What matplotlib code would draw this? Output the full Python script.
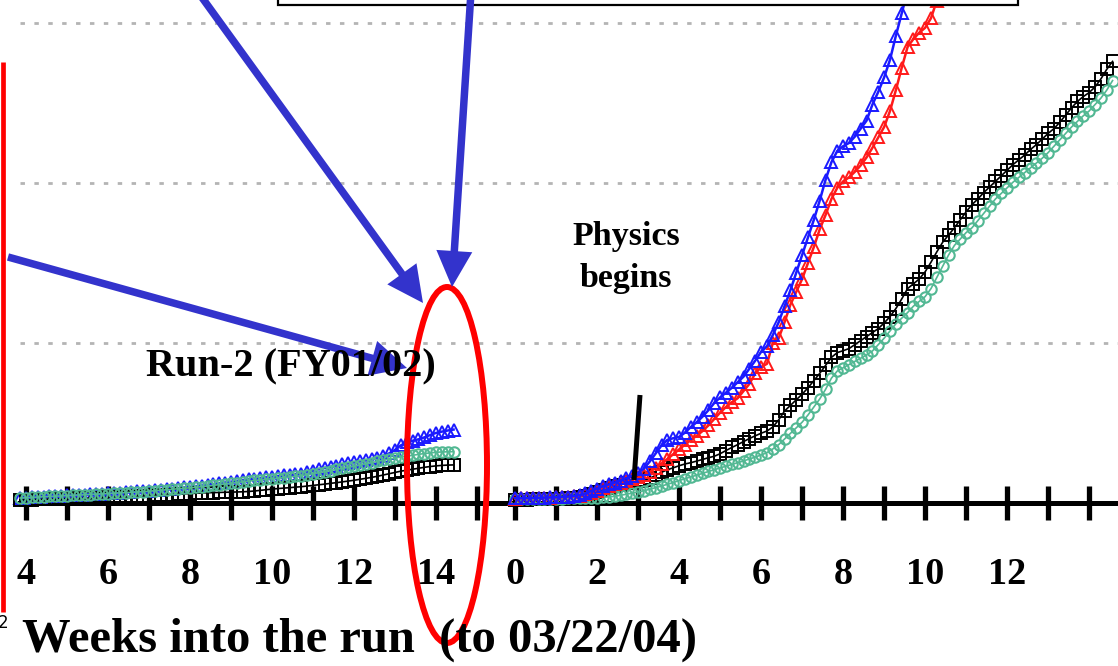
import numpy as np
import matplotlib
matplotlib.use("Agg")
import matplotlib.pyplot as plt
from matplotlib.patches import Ellipse, Rectangle, FancyArrow

# ---------------------------------------------------------------------------
# Integrated luminosity, daily values (arbitrary units, grid every 100)
# Run-2 (FY01/02): days since start of run
run2_first_day = 27
run2_blue = [3.2, 3.4, 3.6, 3.8, 4.0, 4.2, 4.4, 4.6, 4.8, 5.0, 5.2, 5.3, 5.5, 5.7, 5.9,
             6.1, 6.3, 6.5, 6.7, 6.9, 7.2, 7.5, 7.8, 8.1, 8.4, 8.7, 9.0, 9.3, 9.7, 10.1,
             10.5, 10.9, 11.3, 11.8, 12.3, 12.8, 13.3, 13.8, 14.3, 14.8, 15.2, 15.6, 16.0,
             16.4, 16.8, 17.2, 17.6, 18.0, 18.4, 19.2, 20.2, 21.1, 21.9, 22.6, 23.4, 24.1,
             24.8, 25.4, 26.0, 26.6, 27.3, 28.2, 29.5, 31.0, 33.2, 36.0, 37.9, 38.9, 39.8,
             41.0, 42.5, 43.8, 44.6, 45.3, 45.9]
run2_black = [1.9, 2.0, 2.1, 2.2, 2.3, 2.4, 2.5, 2.6, 2.7, 2.8, 2.9, 3.0, 3.1, 3.2, 3.4,
              3.6, 3.7, 3.9, 4.0, 4.1, 4.2, 4.3, 4.5, 4.7, 4.9, 5.1, 5.3, 5.5, 5.7, 5.9,
              6.1, 6.3, 6.4, 6.5, 6.6, 6.7, 6.8, 6.9, 7.0, 7.2, 7.5, 7.9, 8.3, 8.7, 9.0,
              9.3, 9.6, 9.9, 10.2, 10.6, 11.0, 11.4, 11.8, 12.3, 12.7, 13.2, 13.7, 14.2,
              14.8, 15.4, 16.0, 16.7, 17.5, 18.3, 19.1, 19.9, 20.5, 21.1, 21.7, 22.3, 22.8,
              23.2, 23.5, 23.7, 23.8]
run2_green = [3.1, 3.3, 3.5, 3.7, 3.9, 4.1, 4.3, 4.4, 4.6, 4.8, 5.0, 5.1, 5.3, 5.5, 5.7,
              5.9, 6.1, 6.3, 6.5, 6.7, 6.9, 7.1, 7.4, 7.7, 8.0, 8.3, 8.6, 8.9, 9.2, 9.5,
              9.8, 10.2, 10.6, 11.0, 11.5, 11.9, 12.3, 12.8, 13.2, 13.7, 14.1, 14.4, 14.8,
              15.2, 15.5, 15.9, 16.3, 16.7, 17.1, 17.7, 18.3, 19.0, 19.6, 20.3, 21.0, 21.6,
              22.3, 23.0, 23.7, 24.5, 25.2, 26.0, 26.7, 27.4, 28.1, 28.8, 29.3, 29.8, 30.4,
              30.9, 31.3, 31.7, 31.9, 32.0, 32.1]

# Run-4 (FY04): days since start of run, up to 03/22/04
run4_blue = [3.0, 3.0, 3.1, 3.2, 3.3, 3.4, 3.5, 3.6, 3.8, 4.0, 4.4, 5.0, 6.0, 7.5, 9.0,
             10.5, 11.6, 12.8, 14.0, 15.5, 17.0, 19.0, 21.5, 26.0, 31.0, 36.0, 39.5, 40.5,
             41.3, 44.0, 47.5, 50.5, 54.0, 58.0, 62.5, 66.0, 69.0, 72.0, 75.5, 79.0, 84.0,
             89.0, 94.5, 98.0, 105.0, 113.0, 123.0, 133.0, 144.0, 155.0, 166.0, 177.0,
             189.0, 202.0, 213.0, 220.0, 223.0, 225.0, 229.0, 234.0, 239.0, 249.0, 257.0,
             266.0, 277.0, 292.0, 306.0, 320.0, 334.0]
run4_red = [2.8, 2.9, 3.0, 3.1, 3.2, 3.3, 3.4, 3.5, 3.6, 3.8, 4.1, 4.6, 5.4, 6.5, 7.8,
            9.2, 10.5, 11.6, 12.6, 13.6, 14.8, 16.0, 17.5, 19.5, 22.0, 24.5, 27.5, 30.5,
            33.5, 36.5, 39.5, 42.0, 45.0, 48.5, 52.5, 56.5, 60.0, 63.0, 65.5, 70.0, 74.5,
            81.0, 85.0, 87.0, 100.0, 103.0, 113.0, 124.0, 132.0, 140.0, 150.0, 160.0,
            171.0, 180.0, 190.0, 197.0, 201.0, 203.5, 207.0, 211.0, 216.0, 222.0, 228.5,
            235.0, 245.0, 258.0, 272.0, 285.0, 290.0, 294.0, 297.0, 303.0, 314.0, 326.0]
run4_black = [2.0, 2.0, 2.1, 2.2, 2.3, 2.4, 2.5, 2.6, 2.8, 3.0, 3.4, 3.9, 4.6, 5.5, 6.8,
              8.2, 9.6, 10.6, 11.4, 12.2, 13.0, 13.6, 14.2, 15.5, 17.3, 19.2, 20.8, 22.0,
              23.3, 24.4, 25.2, 26.2, 27.2, 28.3, 29.2, 30.8, 32.8, 34.7, 36.5, 38.4, 40.3,
              42.0, 43.6, 45.0, 47.5, 52.0, 57.5, 61.0, 64.5, 68.0, 72.0, 76.5, 81.0, 86.0,
              91.0, 94.0, 95.2, 96.5, 99.0, 101.5, 104.0, 106.5, 109.0, 112.5, 116.5, 121.5,
              127.5, 134.0, 137.0, 140.0, 144.5, 150.5, 157.0, 163.0, 167.5, 172.0, 177.0,
              182.0, 186.5, 190.0, 194.0, 197.5, 201.0, 204.5, 208.0, 211.5, 214.5, 217.5,
              221.0, 224.0, 227.5, 231.0, 234.0, 238.0, 242.5, 247.0, 251.0, 254.0, 256.5,
              260.0, 265.0, 271.0, 276.0]
run4_green = [2.5, 2.5, 2.5, 2.6, 2.6, 2.7, 2.7, 2.8, 2.8, 2.9, 3.0, 3.1, 3.2, 3.3, 3.4,
              3.6, 3.8, 4.2, 4.8, 5.5, 6.2, 6.9, 7.7, 8.6, 9.6, 10.6, 11.7, 12.8, 14.0,
              15.2, 16.3, 17.4, 18.5, 19.7, 20.8, 21.9, 23.0, 24.1, 25.2, 26.3, 27.5, 28.7,
              30.0, 31.5, 33.8, 36.5, 40.0, 43.5, 47.0, 50.5, 55.0, 60.0, 65.0, 71.0, 78.0,
              82.5, 84.5, 86.5, 88.5, 90.5, 92.5, 95.0, 99.0, 103.0, 107.5, 112.0, 115.5,
              119.0, 123.0, 126.0, 129.0, 134.0, 141.0, 148.0, 155.0, 161.0, 165.0, 169.0,
              172.0, 176.5, 181.0, 185.5, 190.0, 193.5, 197.0, 200.5, 203.5, 206.5, 209.5,
              212.5, 215.5, 219.0, 223.0, 227.0, 231.0, 235.0, 238.5, 242.0, 245.0, 249.0,
              253.0, 258.0, 264.0]

# Tick labels (weeks into each run)
run2_week_labels = [4, 6, 8, 10, 12, 14]
run4_week_labels = [0, 2, 4, 6, 8, 10, 12]
grid_levels = [100, 200, 300]
# ---------------------------------------------------------------------------

RUN4_OFFSET = 15.93          # where week 0 of Run-4 sits on the shared axis
SERIF = "Liberation Serif"
BLUE, RED, BLACK, GREEN = "#1a1aff", "#ff1a1a", "#000000", "#52b893"
ARROW = "#3333cc"

fig = plt.figure(figsize=(11.18, 6.66), dpi=100)
ax = fig.add_axes([0, 0, 1, 1])
x_lo, x_hi = 3.3659, 30.634
ax.set_xlim(x_lo, x_hi)
ax.set_ylim(-101.875, 314.375)
axis_start = 3.854


def weeks(first_day, n, offset=0.0):
    return offset + np.arange(first_day, first_day + n) / 7.0


# dotted horizontal guide lines
ax.hlines(grid_levels, axis_start, x_hi, colors="#b4b4b4", lw=2.0,
          linestyles=(0, (1.6, 3.4)), zorder=1)

tri = dict(marker="^", ms=8.5, mfc="none", mew=1.4, lw=1.8, zorder=3)
sq = dict(marker="s", ms=8.0, mfc="none", mew=1.4, lw=1.2, zorder=3)
circ = dict(marker="o", ms=7.5, mfc="none", mew=1.5, lw=1.2, zorder=3)
# Run-2
ax.plot(weeks(run2_first_day, len(run2_blue)), run2_blue, color=BLUE, **tri)
ax.plot(weeks(run2_first_day, len(run2_black)), run2_black, color=BLACK, **sq)
ax.plot(weeks(run2_first_day, len(run2_green)), run2_green, color=GREEN, **circ)
# Run-4
ax.plot(weeks(0, len(run4_black), RUN4_OFFSET), run4_black, color=BLACK, **sq)
ax.plot(weeks(0, len(run4_green), RUN4_OFFSET), run4_green, color=GREEN, **circ)
ax.plot(weeks(0, len(run4_red), RUN4_OFFSET), run4_red, color=RED, **tri)
ax.plot(weeks(0, len(run4_blue), RUN4_OFFSET), run4_blue, color=BLUE, **tri)

# axis line with week ticks
for s in ("left", "right", "top"):
    ax.spines[s].set_visible(False)
ax.spines["bottom"].set_position(("data", 0))
ax.spines["bottom"].set_linewidth(3.6)
ax.spines["bottom"].set_bounds(axis_start, x_hi)
ax.spines["bottom"].set_zorder(2)
ax.set_yticks([])
major = [w for w in run2_week_labels] + [RUN4_OFFSET + w for w in run4_week_labels]
labels = [str(w) for w in run2_week_labels] + [str(w) for w in run4_week_labels]
ax.set_xticks(major, labels, fontsize=27.5, fontweight="bold", fontfamily=SERIF)
minor = [w for w in range(5, 16, 2)] + [RUN4_OFFSET + w for w in (1, 3, 5, 7, 9, 11, 13, 14)]
ax.set_xticks(minor, minor=True)
ax.tick_params(axis="x", which="both", direction="inout", length=23.8, width=3.8,
               color="black", pad=27)
ax.patch.set_alpha(0)

# annotation layer in pixel coordinates
ov = fig.add_axes([0, 0, 1, 1], zorder=5)
ov.set_xlim(0, 1118)
ov.set_ylim(666, 0)
ov.axis("off")
ov.patch.set_alpha(0)

ov.add_patch(Rectangle((278, -20), 740, 25, fc="white", ec="black", lw=1.6))
ov.plot([3, 3], [62, 612], color="#ff0000", lw=3.4, solid_capstyle="butt")
ov.add_patch(Ellipse((447, 465), 80, 356, fill=False, ec="#ff0000", lw=4.3))

for (x0, y0), (x1, y1), hw in [((198, -8), (423, 303), 36),
                                ((471, -8), (452, 287), 36),
                                ((8, 257), (407, 368), 36)]:
    ov.add_patch(FancyArrow(x0, y0, x1 - x0, y1 - y0, width=7.5, head_width=hw,
                            head_length=36, length_includes_head=True,
                            color=ARROW, lw=0))

ov.plot([640, 634], [395, 480], color="black", lw=3.6, solid_capstyle="butt")
ov.text(626, 221, "Physics\nbegins", ha="center", va="top", fontsize=24.5,
        fontweight="bold", fontfamily=SERIF, linespacing=1.45)
ov.text(146, 376, "Run-2 (FY01/02)", ha="left", va="baseline", fontsize=29,
        fontweight="bold", fontfamily=SERIF)
ov.text(22, 652, "Weeks into the run  (to 03/22/04)", ha="left", va="baseline",
        fontsize=35, fontweight="bold", fontfamily=SERIF)
ov.text(-2, 628, "2", ha="left", va="baseline", fontsize=12)

fig.savefig("out.png", dpi=100)
